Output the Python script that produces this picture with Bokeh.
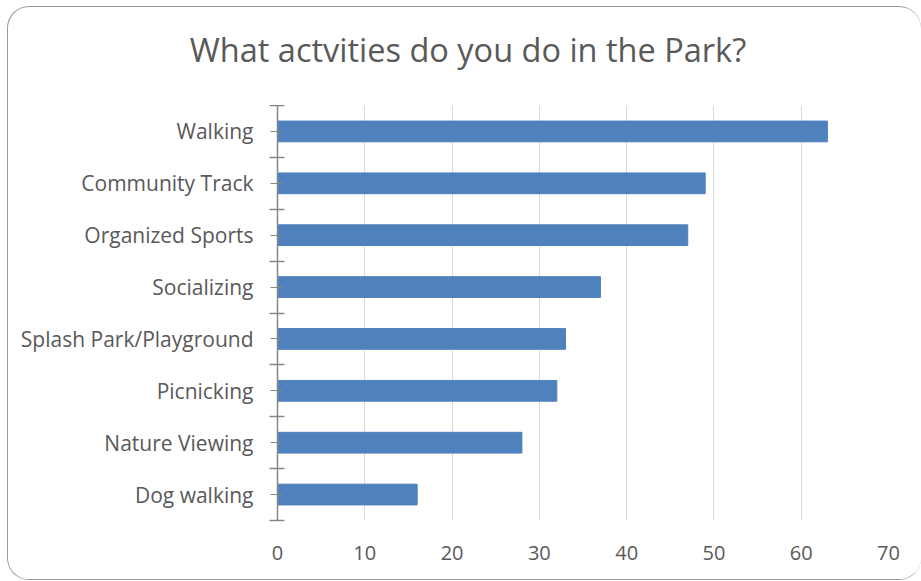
import numpy as np
from bokeh.plotting import figure
from bokeh.layouts import column
from bokeh.models import FixedTicker, Range1d, Div
from bokeh.embed import file_html
from bokeh.resources import INLINE

title_text = "What actvities do you do in the Park?"
activities = ["Walking", "Community Track", "Organized Sports", "Socializing",
              "Splash Park/Playground", "Picnicking", "Nature Viewing", "Dog walking"]
counts = [63, 49, 47, 37, 33, 32, 28, 16]
x_ticks = [0, 10, 20, 30, 40, 50, 60, 70]

n = len(activities)
# bottom-to-top positions (first category at the top)
ypos = [n - 1 - i + 0.5 for i in range(n)]

FONT = "Open Sans"
TXT = "#595959"

title_div = Div(
    text=(f'<div style="width:913px;text-align:center;padding-top:21px;'
          f'padding-left:7px;box-sizing:border-box;'
          f'font-family:\'{FONT}\';font-size:32.5px;line-height:44px;'
          f'color:{TXT};white-space:nowrap;">{title_text}</div>'),
    width=913, height=98, margin=0)

p = figure(width=913, height=474, output_backend="svg", toolbar_location=None,
           title=None, x_range=Range1d(0, 70), y_range=Range1d(0, n),
           min_border_left=269, min_border_right=33, min_border_top=0,
           min_border_bottom=59, margin=0)
p.outline_line_color = None

p.hbar(y=ypos, right=counts, left=0, height=0.4, color="#4F81BD")

# x axis
p.xaxis.ticker = FixedTicker(ticks=x_ticks)
p.xaxis.axis_line_color = None
p.xaxis.major_tick_line_color = None
p.xaxis.minor_tick_line_color = None
p.xaxis.major_label_text_font = FONT
p.xaxis.major_label_text_font_size = "20px"
p.xaxis.major_label_text_color = TXT
p.xaxis.major_label_standoff = 19

# y axis
p.yaxis.ticker = FixedTicker(ticks=ypos, minor_ticks=list(range(n + 1)))
p.yaxis.major_label_overrides = {y: a for y, a in zip(ypos, activities)}
p.yaxis.axis_line_color = "#878787"
p.yaxis.axis_line_width = 1.5
p.yaxis.major_tick_line_color = "#878787"
p.yaxis.major_tick_in = 5
p.yaxis.major_tick_out = 7
p.yaxis.minor_tick_line_color = "#878787"
p.yaxis.minor_tick_line_width = 1.5
p.yaxis.minor_tick_in = 7
p.yaxis.minor_tick_out = 8
p.yaxis.major_label_text_font = FONT
p.yaxis.major_label_text_font_size = "21px"
p.yaxis.major_label_text_color = TXT
p.yaxis.major_label_standoff = 16

p.xgrid.grid_line_color = "#d9d9d9"
p.xgrid.ticker = FixedTicker(ticks=x_ticks)
p.ygrid.grid_line_color = None

layout = column(title_div, p, width=914, height=574, spacing=0,
                styles={"border": "1px solid #9a9a9a", "border-right": "none",
                        "border-radius": "22px", "box-sizing": "border-box",
                        "overflow": "hidden", "background": "white",
                        "margin-left": "7px", "margin-top": "6px"})

open("out.html", "w").write(file_html(layout, INLINE))
